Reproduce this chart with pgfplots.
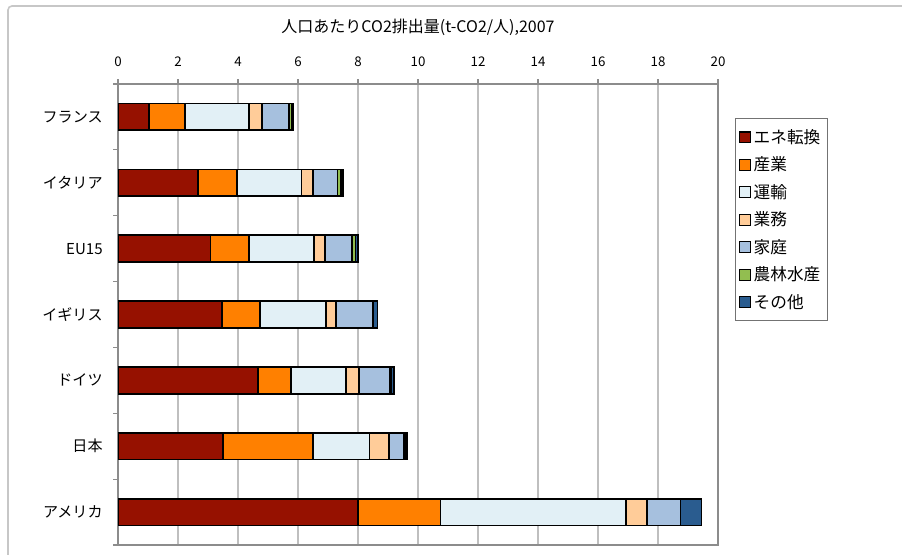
\documentclass[border=0pt]{standalone}
\usepackage{pgfplots}
\pgfplotsset{compat=1.18}
\usepackage{fontspec}
\setmainfont{Noto Sans CJK JP}
\definecolor{cEne}{RGB}{150,17,0}
\definecolor{cInd}{RGB}{255,128,0}
\definecolor{cTra}{RGB}{226,240,246}
\definecolor{cCom}{RGB}{255,204,153}
\definecolor{cHou}{RGB}{166,192,222}
\definecolor{cAgr}{RGB}{146,190,80}
\definecolor{cOth}{RGB}{42,92,143}
\begin{document}
\begin{tikzpicture}
\useasboundingbox (0,0) rectangle (676.5pt,-416.25pt);
\draw[black!22, line width=1.2pt, rounded corners=3pt] (6pt,-430pt) -- (6pt,-4.5pt) -- (690pt,-4.5pt);
\begin{axis}[
  at={(88.5pt,-408.75pt)}, anchor=south west,
  scale only axis, width=450pt, height=345.75pt,
  xbar stacked, bar width=20pt,
  xmin=0, xmax=20, ymin=-0.5, ymax=6.5, y dir=reverse,
  xtick={0,2,...,20}, xticklabel pos=upper, xtick pos=upper,
  ytick={-0.5,0.5,...,6.5}, yticklabels={}, ytick pos=left,
  extra y ticks={0,1,2,3,4,5,6},
  extra y tick labels={フランス,イタリア,EU15,イギリス,ドイツ,日本,アメリカ},
  extra y tick style={major tick length=0pt, grid=none},
  tick align=outside, major tick length=3.5pt,
  tick style={black!45, line width=0.8pt},
  xmajorgrids, ymajorgrids=false,
  grid style={black!25, line width=1pt},
  axis line style={black!45, line width=1pt},
  /pgf/number format/assume math mode=true,
  xticklabel style={font=\fontsize{10}{12}\selectfont, yshift=6pt},
  yticklabel style={font=\fontsize{11.3}{13}\selectfont, xshift=-8pt},
  title={人口あたりCO2排出量(t-CO2/人),2007},
  title style={at={(0.5,1)}, anchor=center, yshift=36.75pt, font=\fontsize{12}{14}\selectfont},
  legend style={at={(1.028,0.926)}, anchor=north west, draw=black!55, line width=0.8pt,
    font=\fontsize{12.5}{14}\selectfont, row sep=4.6pt, inner xsep=3pt, inner ysep=6pt,
    cells={anchor=west}},
  legend image code/.code={\draw[#1, line width=0.8pt] (0pt,-4pt) rectangle (8pt,4pt);},
  legend cell align=left,
  every axis plot/.append style={draw=black, line width=1.3pt},
]
\addplot[fill=cEne] coordinates {(1.04,0) (2.66,1) (3.08,2) (3.47,3) (4.67,4) (3.50,5) (8.00,6)};
\addplot[fill=cInd] coordinates {(1.19,0) (1.31,1) (1.29,2) (1.27,3) (1.10,4) (2.99,5) (2.75,6)};
\addplot[fill=cTra] coordinates {(2.14,0) (2.15,1) (2.17,2) (2.19,3) (1.83,4) (1.89,5) (6.18,6)};
\addplot[fill=cCom] coordinates {(0.44,0) (0.37,1) (0.36,2) (0.34,3) (0.43,4) (0.66,5) (0.70,6)};
\addplot[fill=cHou] coordinates {(0.89,0) (0.83,1) (0.91,2) (1.22,3) (1.04,4) (0.50,5) (1.12,6)};
\addplot[fill=cAgr] coordinates {(0.11,0) (0.11,1) (0.11,2) (0.03,3) (0.03,4) (0.06,5) (0.00,6)};
\addplot[fill=cOth] coordinates {(0.04,0) (0.08,1) (0.08,2) (0.13,3) (0.10,4) (0.04,5) (0.70,6)};
\legend{エネ転換,産業,運輸,業務,家庭,農林水産,その他}
\end{axis}
\end{tikzpicture}
\end{document}
